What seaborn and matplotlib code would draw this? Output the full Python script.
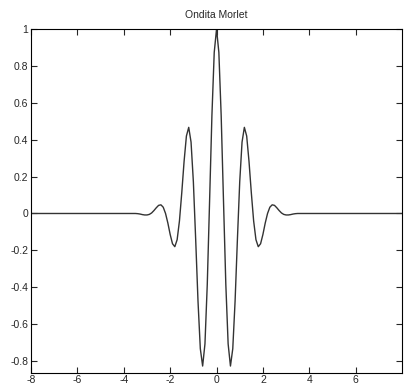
import numpy as np
import pandas as pd
import matplotlib
matplotlib.use('Agg')
import matplotlib.pyplot as plt
import seaborn as sns

# Values (Morlet wavelet), positive half then mirrored by hand
x_pos = [0.0, 0.1, 0.2, 0.3, 0.4, 0.5, 0.6, 0.7, 0.8, 0.9, 1.0, 1.1, 1.2, 1.3, 1.4, 1.5,
         1.6, 1.7, 1.8, 1.9, 2.0, 2.1, 2.2, 2.3, 2.4, 2.5, 2.6, 2.7, 2.8, 2.9, 3.0, 3.1,
         3.2, 3.3, 3.4, 3.5, 8.0]
y_pos = [1.0, 0.873, 0.530, 0.068, -0.384, -0.707, -0.827, -0.733, -0.475, -0.141, 0.172,
         0.387, 0.467, 0.420, 0.283, 0.113, -0.040, -0.142, -0.180, -0.164, -0.114, -0.052,
         0.000, 0.034, 0.047, 0.044, 0.031, 0.016, 0.003, -0.005, -0.008, -0.008, -0.006,
         -0.003, -0.001, 0.0, 0.0]

x_vals = [-v for v in x_pos[:0:-1]] + x_pos
y_vals = y_pos[:0:-1] + y_pos

xticks = [-8, -6, -4, -2, 0, 2, 4, 6]
yticks = [-0.8, -0.6, -0.4, -0.2, 0, 0.2, 0.4, 0.6, 0.8, 1]
ytick_labels = ['-0.8', '-0.6', '-0.4', '-0.2', '0', '0.2', '0.4', '0.6', '0.8', '1']

df = pd.DataFrame({'x': x_vals, 'y': y_vals})

sns.set_style('ticks', {'xtick.direction': 'in', 'ytick.direction': 'in'})
plt.rcParams['font.family'] = ['Liberation Sans', 'DejaVu Sans']

fig = plt.figure(figsize=(4.04, 3.87), dpi=100)
ax = fig.add_axes([0.077, 0.037, 0.918, 0.888])
sns.lineplot(data=df, x='x', y='y', ax=ax, color='#333333', linewidth=1.0, sort=False)

ax.set_xlim(-8, 8)
ax.set_ylim(-0.863, 1.0)
ax.set_xticks(xticks)
ax.set_xticklabels([str(t) for t in xticks])
ax.set_yticks(yticks)
ax.set_yticklabels(ytick_labels)
ax.tick_params(labelsize=7.5, length=4, width=0.8, top=True, right=True, pad=2)
for s in ax.spines.values():
    s.set_visible(True)
    s.set_linewidth(0.8)
    s.set_color('black')
ax.set_xlabel('')
ax.set_ylabel('')
ax.set_title('Ondita Morlet', fontsize=7.5, pad=8)

fig.savefig('out.png', dpi=100)
